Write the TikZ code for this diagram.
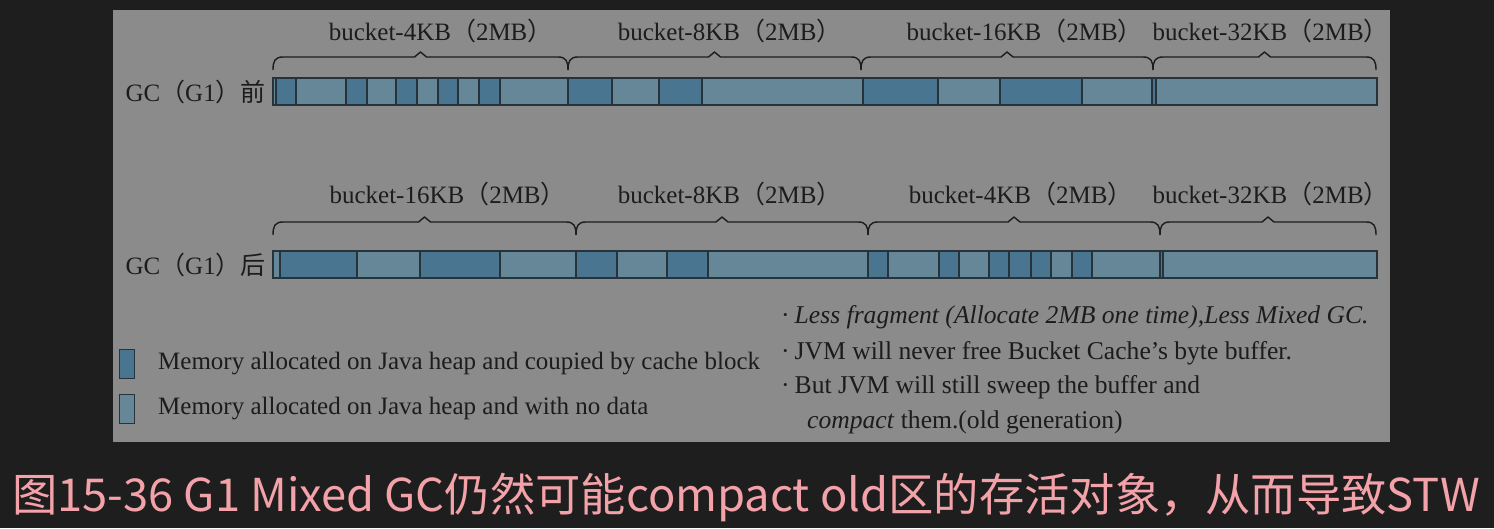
\documentclass[tikz,border=0pt]{standalone}
\usepackage{fontspec}
\setmainfont{Liberation Serif}
\newfontfamily\cjk{Noto Sans CJK SC}

\definecolor{bgdark}{HTML}{1E1E1E}
\definecolor{panelgray}{HTML}{8B8B8B}
\definecolor{celldark}{HTML}{4A7590}
\definecolor{celllight}{HTML}{658797}
\definecolor{cellline}{HTML}{27333B}
\definecolor{inktext}{HTML}{1C1C1C}
\definecolor{captionpink}{HTML}{F2A2A8}

\tikzset{
  dcell/.style={fill=celldark, draw=cellline, line width=1.6pt},
  lcell/.style={fill=celllight, draw=cellline, line width=1.6pt},
  barframe/.style={draw=cellline, line width=2pt},
  bracepath/.style={draw=inktext, line width=1.4pt, line join=round},
  bucketlabel/.style={font=\fontsize{25}{30}\selectfont, text=inktext, inner sep=0pt},
  rowlabel/.style={font=\fontsize{25}{30}\selectfont, text=inktext, inner sep=0pt, anchor=east},
  legendbox/.style={draw=cellline, line width=1.6pt, minimum width=15pt, minimum height=29pt, inner sep=0pt},
  legendtext/.style={font=\fontsize{25}{30}\selectfont, text=inktext, inner sep=0pt, anchor=west},
  notetext/.style={font=\fontsize{25.6}{30}\selectfont, text=inktext, inner sep=0pt, anchor=west},
  caption/.style={font=\cjk\fontsize{45.3}{52}\selectfont, text=captionpink, inner sep=0pt, anchor=west}
}

% brace over one bucket: from x #1 to x #2, straight part at y #3
\newcommand{\drawbrace}[3]{%
  \draw[bracepath] (#1,#3+13) .. controls (#1,#3+4) and (#1+2,#3) .. (#1+10,#3)
    -- ({(#1+#2)/2-6},#3) -- ({(#1+#2)/2},#3-5) -- ({(#1+#2)/2+6},#3)
    -- (#2-10,#3) .. controls (#2-2,#3) and (#2,#3+4) .. (#2,#3+13);
}
\newcommand{\bucketname}[1]{bucket-#1{\cjk （}2MB\makebox[0.55em][l]{\cjk ）}}
\newcommand{\dotmark}{·\hspace{5pt}}

\begin{document}
\begin{tikzpicture}[x=1pt, y=-1pt]
  \useasboundingbox (0,0) rectangle (1494,528);
  \fill[bgdark] (0,0) rectangle (1494,528);
  \fill[panelgray] (113,10) rectangle (1390,442);

  % before GC
  \foreach \xa/\xb/\kind in {273/276/lcell, 276/296/dcell, 296/346/lcell, 346/367/dcell,
      367/396/lcell, 396/417/dcell, 417/438/lcell, 438/458/dcell, 458/479/lcell,
      479/500/dcell, 500/568/lcell, 568/612/dcell, 612/659/lcell, 659/702/dcell,
      702/863/lcell, 863/938/dcell, 938/1000/lcell, 1000/1082/dcell, 1082/1152/lcell,
      1152/1156/dcell, 1156/1377/lcell}
    \draw[\kind] (\xa,78) rectangle (\xb,105);
  \draw[barframe] (273,78) rectangle (1377,105);

  \drawbrace{273}{568}{57}
  \drawbrace{568}{861}{57}
  \drawbrace{861}{1153}{57}
  \drawbrace{1153}{1376}{57}

  \node[bucketlabel] (pre4k) at (435,31) {\bucketname{4KB}};
  \node[bucketlabel] (pre8k) at (724,31) {\bucketname{8KB}};
  \node[bucketlabel] (pre16k) at (1019,31) {\bucketname{16KB}};
  \node[bucketlabel] (pre32k) at (1265,31) {\bucketname{32KB}};
  \node[rowlabel] (prerow) at (266,92) {GC{\cjk （}G1{\cjk ）前}};

  % after GC
  \foreach \xa/\xb/\kind in {273/280/lcell, 280/357/dcell, 357/420/lcell, 420/500/dcell,
      500/576/lcell, 576/617/dcell, 617/667/lcell, 667/708/dcell, 708/868/lcell,
      868/888/dcell, 888/939/lcell, 939/959/dcell, 959/989/lcell, 989/1009/dcell,
      1009/1031/dcell, 1031/1051/dcell, 1051/1072/lcell, 1072/1092/dcell,
      1092/1160/lcell, 1160/1163/dcell, 1163/1377/lcell}
    \draw[\kind] (\xa,251) rectangle (\xb,278);
  \draw[barframe] (273,251) rectangle (1377,278);

  \drawbrace{273}{576}{222}
  \drawbrace{576}{868}{222}
  \drawbrace{868}{1160}{222}
  \drawbrace{1160}{1376}{222}

  \node[bucketlabel] (post16k) at (442,194) {\bucketname{16KB}};
  \node[bucketlabel] (post8k) at (724,194) {\bucketname{8KB}};
  \node[bucketlabel] (post4k) at (1015,194) {\bucketname{4KB}};
  \node[bucketlabel] (post32k) at (1265,194) {\bucketname{32KB}};
  \node[rowlabel] (postrow) at (266,265) {GC{\cjk （}G1{\cjk ）后}};

  % legend
  \node[legendbox, fill=celldark] (keyfull) at (127,364) {};
  \node[legendbox, fill=celllight] (keyempty) at (127,409) {};
  \node[legendtext] (keyfulltext) at (158,364) {Memory allocated on Java heap and coupied by cache block};
  \node[legendtext] (keyemptytext) at (158,409) {Memory allocated on Java heap and with no data};

  % notes
  \node[notetext] (note1) at (781,317) {\dotmark\textit{Less fragment (Allocate 2MB one time),Less Mixed GC.}};
  \node[notetext] (note2) at (781,353) {\dotmark JVM will never free Bucket Cache’s byte buffer.};
  \node[notetext] (note3) at (781,387) {\dotmark But JVM will still sweep the buffer and};
  \node[notetext] (note4) at (807,422) {\textit{compact} them.(old generation)};

  \node[caption] (caption) at (12,497) {图15-36 G1 Mixed GC仍然可能compact old区的存活对象，从而导致STW};
\end{tikzpicture}
\end{document}
